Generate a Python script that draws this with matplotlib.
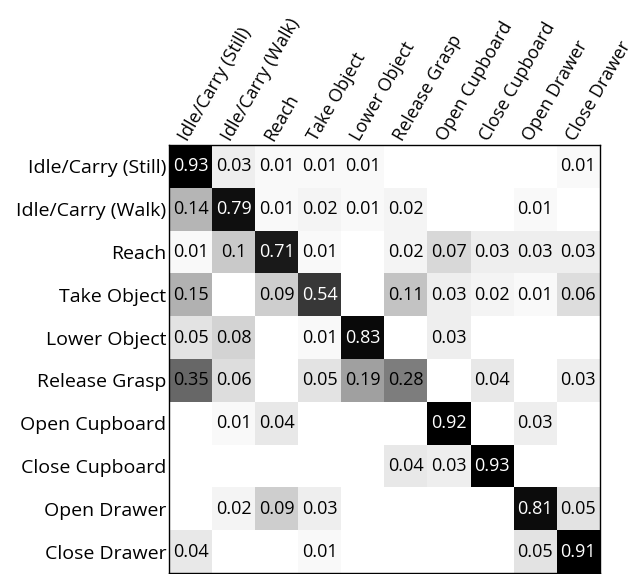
import numpy as np
import matplotlib.pyplot as plt
from matplotlib.colors import FuncNorm
from matplotlib.transforms import ScaledTranslation

plt.rcParams['font.family'] = ['Open Sans', 'DejaVu Sans']

classes = ["Idle/Carry (Still)", "Idle/Carry (Walk)", "Reach", "Take Object",
           "Lower Object", "Release Grasp", "Open Cupboard", "Close Cupboard",
           "Open Drawer", "Close Drawer"]

# confusion matrix rows = true class, cols = predicted class (0 = not shown)
row_still = [0.93, 0.03, 0.01, 0.01, 0.01, 0, 0, 0, 0, 0.01]
row_walk = [0.14, 0.79, 0.01, 0.02, 0.01, 0.02, 0, 0, 0.01, 0]
row_reach = [0.01, 0.1, 0.71, 0.01, 0, 0.02, 0.07, 0.03, 0.03, 0.03]
row_take = [0.15, 0, 0.09, 0.54, 0, 0.11, 0.03, 0.02, 0.01, 0.06]
row_lower = [0.05, 0.08, 0, 0.01, 0.83, 0, 0.03, 0, 0, 0]
row_release = [0.35, 0.06, 0, 0.05, 0.19, 0.28, 0, 0.04, 0, 0.03]
row_open_cup = [0, 0.01, 0.04, 0, 0, 0, 0.92, 0, 0.03, 0]
row_close_cup = [0, 0, 0, 0, 0, 0.04, 0.03, 0.93, 0, 0]
row_open_dr = [0, 0.02, 0.09, 0.03, 0, 0, 0, 0, 0.81, 0.05]
row_close_dr = [0.04, 0, 0, 0.01, 0, 0, 0, 0, 0.05, 0.91]

cm = np.array([row_still, row_walk, row_reach, row_take, row_lower,
               row_release, row_open_cup, row_close_cup, row_open_dr, row_close_dr])

# saturating grey scale so small confusions still show up
k = 2.0
norm = FuncNorm((lambda v: 1 - np.exp(-k * v), lambda x: -np.log(1 - x) / k),
                vmin=0, vmax=0.93)

fig = plt.figure(figsize=(6.38, 5.74), dpi=100)
ax = fig.add_axes([0.2649, 0.0017, 0.6755, 0.7456])

ax.imshow(cm, cmap='gray_r', norm=norm, aspect='auto', interpolation='nearest')

for i in range(cm.shape[0]):
    for j in range(cm.shape[1]):
        v = cm[i, j]
        if v <= 0:
            continue
        txt = "0.1" if v == 0.1 else f"{v:.2f}"
        ax.text(j, i, txt, ha='center', va='center', fontsize=13,
                color='white' if v > 0.5 else 'black')

ax.set_xticks(range(len(classes)))
ax.set_yticks(range(len(classes)))
ax.xaxis.tick_top()
ax.set_xticklabels(classes, rotation=60, ha='left', va='bottom',
                   rotation_mode='anchor', fontsize=13)
ax.set_yticklabels(classes, fontsize=14)
ax.tick_params(axis='x', length=0, pad=1)
ax.tick_params(axis='y', length=0, pad=2)
shift = ScaledTranslation(0, 0, fig.dpi_scale_trans)
for lab in ax.get_xticklabels():
    lab.set_transform(lab.get_transform() + shift)
for s in ax.spines.values():
    s.set_linewidth(1.0)

fig.savefig("out.png", dpi=100)
